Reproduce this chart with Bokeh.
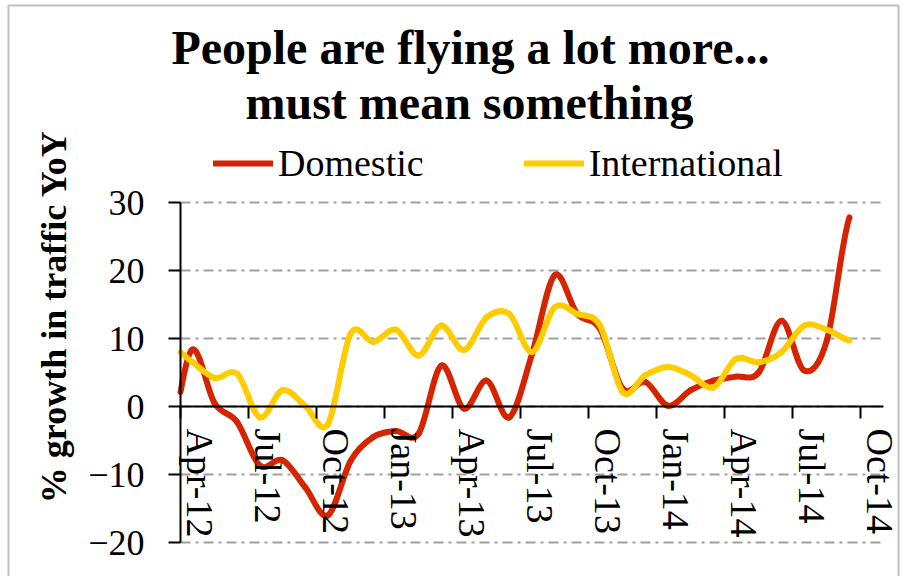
import numpy as np
from bokeh.plotting import figure
from bokeh.models import (Range1d, LinearAxis, FixedTicker, Label, Legend,
                          LegendItem, ColumnDataSource, BoxAnnotation)
from bokeh.embed import file_html
from bokeh.resources import INLINE

# ---------------- data ----------------
months = ["Mar-12", "Apr-12", "May-12", "Jun-12", "Jul-12", "Aug-12", "Sep-12",
          "Oct-12", "Nov-12", "Dec-12", "Jan-13", "Feb-13", "Mar-13", "Apr-13",
          "May-13", "Jun-13", "Jul-13", "Aug-13", "Sep-13", "Oct-13", "Nov-13",
          "Dec-13", "Jan-14", "Feb-14", "Mar-14", "Apr-14", "May-14", "Jun-14",
          "Jul-14", "Aug-14", "Sep-14"]
domestic = [-5.0, 8.3, 0.5, -2.3, -8.7, -7.9, -11.9, -16.0, -8.0, -4.5,
            -3.6, -4.0, 6.0, -0.3, 3.8, -1.6, 7.7, 19.3, 13.6, 11.4, 2.6,
            3.6, 0.1, 2.4, 3.8, 4.4, 5.0, 12.6, 5.3, 9.7, 27.8]
international = [9.0, 6.6, 4.2, 4.8, -1.6, 2.4, 0.1, -2.6, 10.7, 9.5,
                 11.3, 7.5, 11.9, 8.3, 13.1, 13.6, 8.0, 14.6, 13.6, 11.9, 2.1,
                 4.6, 5.8, 4.6, 2.8, 7.0, 6.5, 8.0, 11.9, 11.3, 9.7]
tick_labels = ["Apr-12", "Jul-12", "Oct-12", "Jan-13", "Apr-13", "Jul-13",
               "Oct-13", "Jan-14", "Apr-14", "Jul-14", "Oct-14"]
y_ticks = [-20, -10, 0, 10, 20, 30]

MON = {"Jan": 1, "Feb": 2, "Mar": 3, "Apr": 4, "May": 5, "Jun": 6, "Jul": 7,
       "Aug": 8, "Sep": 9, "Oct": 10, "Nov": 11, "Dec": 12}


def month_offset(lbl):
    m, y = lbl.split("-")
    return (2000 + int(y) - 2012) * 12 + MON[m] - 4   # months since Apr-12


xs = [month_offset(m) + 0.5 for m in months]          # mid-month points
tick_pos = [float(month_offset(t)) for t in tick_labels]
label_pos = [round(t + 0.85, 2) for t in tick_pos]
X_MIN, X_MAX = 0.0, 31.0                               # plot area (months)
Y_MIN, Y_MAX = min(y_ticks), max(y_ticks)

RED = "#D62400"
YELLOW = "#FFCC00"
SERIF = "Liberation Serif"


def smooth_segments(x, y, xmin):
    """Cubic Bezier segments through the points (Excel-like smoothing),
    clipped on the left at xmin."""
    x = np.asarray(x, float)
    y = np.asarray(y, float)
    n = len(x)
    px = np.concatenate([[2 * x[0] - x[1]], x, [2 * x[-1] - x[-2]]])
    py = np.concatenate([[y[0]], y, [y[-1]]])
    P0x, P0y, P3x, P3y = x[:-1], y[:-1], x[1:], y[1:]
    P1x = P0x + (px[2:n + 1] - px[0:n - 1]) / 6.0
    P1y = P0y + (py[2:n + 1] - py[0:n - 1]) / 6.0
    P2x = P3x - (px[3:n + 2] - px[1:n]) / 6.0
    P2y = P3y - (py[3:n + 2] - py[1:n]) / 6.0
    segs = []
    for i in range(n - 1):
        a = np.array([[P0x[i], P0y[i]], [P1x[i], P1y[i]],
                      [P2x[i], P2y[i]], [P3x[i], P3y[i]]])
        if a[3, 0] <= xmin:
            continue
        if a[0, 0] < xmin:
            t = (xmin - a[0, 0]) / (a[3, 0] - a[0, 0])   # x is linear in t
            q0 = a[0] + t * (a[1] - a[0])
            q1 = a[1] + t * (a[2] - a[1])
            q2 = a[2] + t * (a[3] - a[2])
            r0 = q0 + t * (q1 - q0)
            r1 = q1 + t * (q2 - q1)
            s = r0 + t * (r1 - r0)
            a = np.array([s, r1, q2, a[3]])
        segs.append(a)
    segs = np.array(segs)
    return dict(x0=segs[:, 0, 0], y0=segs[:, 0, 1], cx0=segs[:, 1, 0],
                cy0=segs[:, 1, 1], cx1=segs[:, 2, 0], cy1=segs[:, 2, 1],
                x1=segs[:, 3, 0], y1=segs[:, 3, 1])


# The frame covers the whole 903x576 canvas; plot area spans px 180..883 x 202..542
W, H = 903, 576
PX_PER_MONTH = 703.0 / (X_MAX - X_MIN)
PX_PER_UNIT = 340.0 / (Y_MAX - Y_MIN)
x_range = Range1d(X_MIN - 180 / PX_PER_MONTH, X_MIN + (W - 180) / PX_PER_MONTH)
y_range = Range1d(Y_MIN - (H - 542) / PX_PER_UNIT, Y_MAX + 202 / PX_PER_UNIT)

p = figure(width=W, height=H, output_backend="svg", toolbar_location=None,
           x_range=x_range, y_range=y_range,
           x_axis_location=None, y_axis_location=None,
           min_border=0, min_border_left=0, min_border_right=0,
           min_border_top=0, min_border_bottom=0)
p.outline_line_color = None
p.background_fill_color = "white"
p.border_fill_color = "white"
for g in p.grid:
    g.visible = False

# gridlines (dash-dot) at every y tick
grid_src = ColumnDataSource(dict(x0=[X_MIN] * len(y_ticks), x1=[X_MAX] * len(y_ticks),
                                 y=y_ticks))
p.segment(x0="x0", x1="x1", y0="y", y1="y", source=grid_src,
          line_color="#A0A0A0", line_width=2, line_dash="10 5 3 5")

# y axis at x = 0
yax = LinearAxis(ticker=FixedTicker(ticks=y_ticks), fixed_location=X_MIN,
                 bounds=(Y_MIN, Y_MAX),
                 major_tick_out=12, major_tick_in=0,
                 minor_tick_line_color=None, axis_line_width=2,
                 major_tick_line_width=2, axis_line_color="black",
                 major_tick_line_color="black",
                 major_label_text_font=SERIF, major_label_text_font_size="36px",
                 major_label_text_color="black", major_label_standoff=24)
p.add_layout(yax, "left")

# x axis: tick marks at quarter starts, crossing at y = 0
ax_ticks = LinearAxis(ticker=FixedTicker(ticks=tick_pos), fixed_location=0,
                      bounds=(X_MIN, X_MAX),
                      major_tick_out=12, major_tick_in=0,
                      minor_tick_line_color=None, axis_line_width=2,
                      major_tick_line_width=2, axis_line_color="black",
                      major_tick_line_color="black",
                      major_label_overrides={t: "" for t in tick_pos})
p.add_layout(ax_ticks, "below")

ax_labels = LinearAxis(ticker=FixedTicker(ticks=label_pos), fixed_location=0,
                       major_tick_out=0, major_tick_in=0,
                       axis_line_color=None, major_tick_line_color=None,
                       minor_tick_line_color=None,
                       major_label_overrides={lp: lab for lp, lab in zip(label_pos, tick_labels)},
                       major_label_orientation="vertical",
                       major_label_standoff=22,
                       major_label_text_font=SERIF,
                       major_label_text_font_size="38px",
                       major_label_text_color="black")
p.add_layout(ax_labels, "below")

# smoothed series
src_d = ColumnDataSource(smooth_segments(xs, domestic, X_MIN))
src_i = ColumnDataSource(smooth_segments(xs, international, X_MIN))
r_d = p.bezier(x0="x0", y0="y0", x1="x1", y1="y1", cx0="cx0", cy0="cy0",
               cx1="cx1", cy1="cy1", source=src_d, line_color=RED,
               line_width=6, line_cap="round", line_join="round")
r_i = p.bezier(x0="x0", y0="y0", x1="x1", y1="y1", cx0="cx0", cy0="cy0",
               cx1="cx1", cy1="cy1", source=src_i, line_color=YELLOW,
               line_width=6, line_cap="round", line_join="round")

legend = Legend(items=[LegendItem(label="Domestic", renderers=[r_d]),
                       LegendItem(label="International", renderers=[r_i])],
                location=(213, H - 185), orientation="horizontal",
                glyph_width=60, glyph_height=40, label_height=40,
                label_standoff=5, spacing=100, padding=0, margin=0,
                label_text_font=SERIF, label_text_font_size="38px",
                label_text_color="black",
                border_line_alpha=0, background_fill_alpha=0)
p.add_layout(legend)

# title (two lines) and y-axis label, positioned in canvas pixels
p.add_layout(Label(x=470, y=H - 47, x_units="screen", y_units="screen",
                   text="People are flying a lot more...", text_align="center",
                   text_baseline="alphabetic", text_font=SERIF,
                   text_font_style="bold", text_font_size="48px",
                   text_color="black"))
p.add_layout(Label(x=469, y=H - 102, x_units="screen", y_units="screen",
                   text="must mean something", text_align="center",
                   text_baseline="alphabetic", text_font=SERIF,
                   text_font_style="bold", text_font_size="48px",
                   text_color="black"))
p.add_layout(Label(x=53, y=H - 316, x_units="screen", y_units="screen",
                   angle=np.pi / 2, text="% growth in traffic YoY",
                   text_align="center", text_baseline="middle",
                   text_font=SERIF, text_font_style="bold",
                   text_font_size="36px", text_color="black"))

# chart border
p.add_layout(BoxAnnotation(left=8, right=898, bottom=-10, top=H - 5,
                           left_units="screen", right_units="screen",
                           top_units="screen", bottom_units="screen",
                           fill_alpha=0, line_color="#333333", line_width=2))

open("out.html", "w").write(file_html(p, INLINE))
